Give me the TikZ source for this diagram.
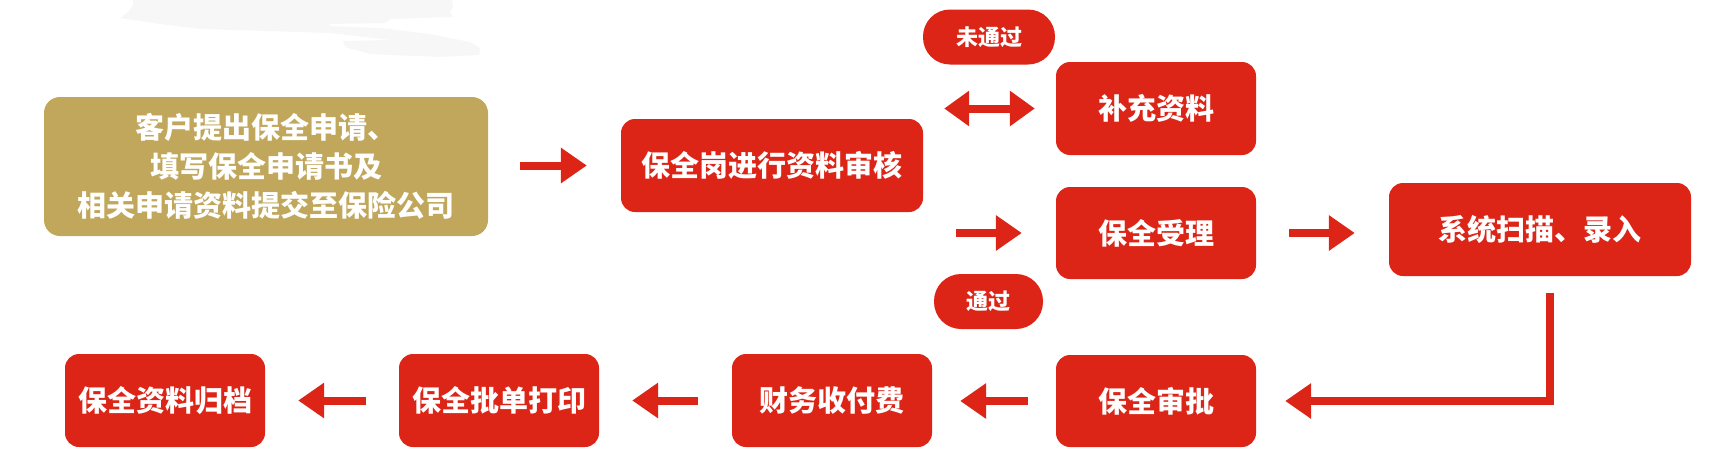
\documentclass[tikz,border=0pt]{standalone}
\usepackage{fontspec}
\newfontfamily\cjk{Noto Sans CJK SC}
\usetikzlibrary{arrows.meta}
\definecolor{rd}{HTML}{DC2417}
\definecolor{gd}{HTML}{C1A75B}
\definecolor{smudge}{HTML}{F7F7F7}
\begin{document}
\begin{tikzpicture}[x=1pt,y=-1pt,
 box/.style={fill=rd, rounded corners=14pt, inner sep=0pt, text=white,
   font=\cjk\bfseries\fontsize{29}{39}\selectfont, align=center,
   minimum width=200pt, minimum height=93pt},
 goldbox/.style={box, fill=gd, rounded corners=16pt, minimum width=444pt, minimum height=139pt},
 pill/.style={fill=rd, rounded corners=27pt, inner sep=0pt, text=white,
   font=\cjk\bfseries\fontsize{22}{26}\selectfont, minimum height=55pt},
 arr/.style={draw=rd, line width=8pt, -{Triangle[length=26pt,width=34pt]}},
 dbl/.style={draw=rd, line width=8pt, {Triangle[length=25pt,width=34pt]}-{Triangle[length=25pt,width=34pt]}},
]
\useasboundingbox (0,0) rectangle (1716,474);
% faint brush smudge at the top
\fill[smudge] (133,0) -- (452,0) -- (453,6) -- (450,12) -- (453,17) -- (390,19)
  -- (385,23) -- (330,24) -- (330,26) -- (380,28) -- (430,34) -- (470,42)
  -- (480,48) -- (479,55) -- (440,57) -- (370,54) -- (345,47) -- (343,41)
  -- (390,40) -- (330,33) -- (200,29) -- (160,24) -- (120,18) -- (128,12)
  -- (133,5) -- cycle;

\node[goldbox] (apply) at (266,166.5) {客户提出保全申请、\\填写保全申请书及\\相关申请资料提交至保险公司};
\node[box, minimum width=302pt] (review) at (772,165.5) {保全岗进行资料审核};
\node[box] (supp) at (1156,108.5) {补充资料};
\node[box, minimum height=92pt] (accept) at (1156,233) {保全受理};
\node[box, minimum width=302pt] (scan) at (1540,229.5) {系统扫描、录入};
\node[box, minimum height=92pt] (approve) at (1156,401) {保全审批};
\node[box] (pay) at (832,400.5) {财务收付费};
\node[box] (print) at (499,400.5) {保全批单打印};
\node[box] (archive) at (165,400.5) {保全资料归档};
\node[pill, minimum width=132pt] (fail) at (989,37) {未通过};
\node[pill, minimum width=109pt] (pass) at (988.5,301.5) {通过};

\draw[arr, shorten <=32pt, shorten >=34pt] (apply.east |- review.west) -- (review.west);
\draw[dbl, yshift=3.5pt, shorten <=21pt, shorten >=21pt] (review.east |- supp.west) -- (supp.west);
\draw[arr, shorten <=33pt, shorten >=34pt] (review.east |- accept.west) -- (accept.west);
\draw[arr, shorten <=33pt, shorten >=34pt] (accept.east) -- (accept.east -| scan.west);
\draw[arr, shorten <=17pt, shorten >=29pt] ([xshift=10pt]scan.south) |- (approve.east);
\draw[arr, shorten <=28pt, shorten >=28pt] (approve.west) -- (approve.west -| pay.east);
\draw[arr, shorten <=34pt, shorten >=33pt] (pay.west) -- (print.east);
\draw[arr, shorten <=33pt, shorten >=33pt] (print.west) -- (archive.east);
\end{tikzpicture}
\end{document}
